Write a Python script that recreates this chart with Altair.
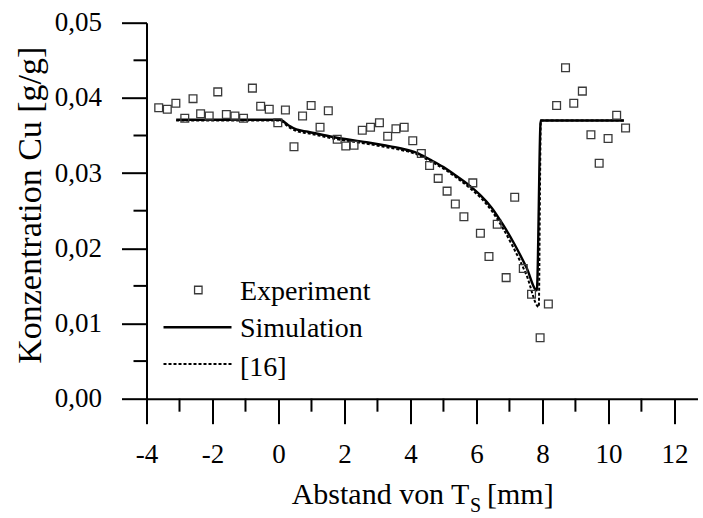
import altair as alt
import pandas as pd

# ---------------- data ----------------
exp_x = [-3.63, -3.37, -3.11, -2.84, -2.59, -2.36, -2.10, -1.84, -1.58, -1.32,
         -1.06, -0.79, -0.54, -0.28, -0.02, 0.21, 0.47, 0.73, 0.99, 1.26,
         1.51, 1.78, 2.04, 2.29, 2.54, 2.79, 3.06, 3.31, 3.56, 3.81,
         4.07, 4.33, 4.58, 4.84, 5.11, 5.36, 5.62, 5.89, 6.12, 6.38,
         6.63, 6.90, 7.16, 7.42, 7.67, 7.93, 8.18, 8.43, 8.70, 8.95,
         9.21, 9.47, 9.72, 9.99, 10.25, 10.52]
exp_y = [0.0387, 0.0385, 0.0393, 0.0373, 0.0399, 0.0379, 0.0376, 0.0408, 0.0378, 0.0376,
         0.0373, 0.0413, 0.0389, 0.0385, 0.0367, 0.0384, 0.0335, 0.0376, 0.0390, 0.0361,
         0.0383, 0.0345, 0.0336, 0.0337, 0.0357, 0.0361, 0.0367, 0.0349, 0.0359, 0.0361,
         0.0343, 0.0326, 0.0310, 0.0293, 0.0276, 0.0259, 0.0242, 0.0287, 0.0220, 0.0189,
         0.0232, 0.0161, 0.0268, 0.0173, 0.0139, 0.0081, 0.0126, 0.0390, 0.0440, 0.0393,
         0.0409, 0.0351, 0.0313, 0.0346, 0.0377, 0.0360]

sim_x = [-3.10, 0.04, 0.29, 0.54, 0.89, 1.66, 2.67, 3.20, 3.68, 4.19, 4.59, 5.00,
         5.30, 5.80, 6.11, 6.46, 6.81, 7.12, 7.52, 7.83, 7.95, 10.47]
sim_y = [0.0371, 0.0371, 0.0364, 0.0358, 0.0355, 0.0348, 0.0341, 0.0337, 0.0333, 0.0327, 0.0318, 0.0308,
         0.0299, 0.0283, 0.0271, 0.0254, 0.0231, 0.0208, 0.0174, 0.0144, 0.0370, 0.0370]

lit_x = [-3.10, 0.04, 0.29, 0.54, 0.89, 1.66, 2.67, 3.20, 3.68, 4.19, 4.59, 5.00,
         5.30, 5.80, 6.11, 6.46, 6.81, 7.12, 7.52, 7.89, 7.93, 7.95, 10.47]
lit_y = [0.0370, 0.0370, 0.0362, 0.0356, 0.0353, 0.0346, 0.0339, 0.0335, 0.0331, 0.0325, 0.0316, 0.0306,
         0.0297, 0.0280, 0.0268, 0.0250, 0.0226, 0.0201, 0.0164, 0.0122, 0.0300, 0.0370, 0.0370]

x_major = [-4, -2, 0, 2, 4, 6, 8, 10, 12]
x_minor = [-3, -1, 1, 3, 5, 7, 9, 11]
y_major = [0.0, 0.01, 0.02, 0.03, 0.04, 0.05]
y_minor = [0.005, 0.015, 0.025, 0.035, 0.045]

legend_labels = ["Experiment", "Simulation", "[16]"]
x_title_parts = ["Abstand von T", "S", " [mm]"]
y_title = "Konzentration Cu [g/g]"

# ---------------- layout ----------------
W, H = 551, 376
FONT = "Liberation Serif, DejaVu Serif, Noto Serif, serif"

xs = alt.Scale(domain=[-4, 12.7], nice=False, zero=False)
ys = alt.Scale(domain=[0, 0.05], nice=False, zero=False)

xaxis = alt.Axis(values=x_major, tickSize=25, tickWidth=2, tickColor="black",
                 domainColor="black", domainWidth=2, grid=False, title=None,
                 labelFont=FONT, labelFontSize=27, labelColor="black",
                 labelPadding=18, labelOverlap=False, labelFlush=False,
                 labelExpr="'' + datum.value")
yaxis = alt.Axis(values=y_major, tickSize=25, tickWidth=2, tickColor="black",
                 domainColor="black", domainWidth=2, grid=False,
                 labelFont=FONT, labelFontSize=27, labelColor="black",
                 labelPadding=20, labelOverlap=False, labelFlush=False,
                 labelExpr="replace(format(datum.value, '.2f'), '.', ',')",
                 title=y_title, titleFont=FONT, titleFontSize=34,
                 titleFontWeight="normal", titleColor="black",
                 titleAngle=270, titleX=-116, titleY=182,
                 titleAlign="center", titleBaseline="middle")

X = lambda f: alt.X(f, type="quantitative", scale=xs, axis=xaxis)
Y = lambda f: alt.Y(f, type="quantitative", scale=ys, axis=yaxis)

exp_df = pd.DataFrame({"x": exp_x, "y": exp_y})
sim_df = pd.DataFrame({"x": sim_x, "y": sim_y, "i": list(range(len(sim_x)))})
lit_df = pd.DataFrame({"x": lit_x, "y": lit_y, "i": list(range(len(lit_x)))})
xmin_df = pd.DataFrame({"x": x_minor})
ymin_df = pd.DataFrame({"y": y_minor})
one = alt.Data(values=[{"a": 1}])

lit = alt.Chart(lit_df).mark_line(color="black", strokeWidth=2, strokeDash=[3, 2],
                                  interpolate="monotone").encode(
    x=X("x"), y=Y("y"), order="i:Q")
sim = alt.Chart(sim_df).mark_line(color="black", strokeWidth=2.4,
                                  interpolate="monotone").encode(
    x=X("x"), y=Y("y"), order="i:Q")
pts = alt.Chart(exp_df).mark_point(shape="square", filled=False, size=60,
                                   stroke="#3a3a3a", strokeWidth=1.3, opacity=1).encode(
    x=X("x"), y=Y("y"))

xminor = alt.Chart(xmin_df).mark_rule(color="black", strokeWidth=2).encode(
    x=X("x"), y=alt.value(H), y2=alt.value(H + 13))
yminor = alt.Chart(ymin_df).mark_rule(color="black", strokeWidth=2).encode(
    y=Y("y"), x=alt.value(-13), x2=alt.value(0))

# legend (manual)
leg_sq = alt.Chart(one).mark_point(shape="square", filled=False, size=56,
                                   stroke="#3a3a3a", strokeWidth=1.3, opacity=1).encode(
    x=alt.value(51.8), y=alt.value(267.3))
leg_l1 = alt.Chart(one).mark_rule(color="black", strokeWidth=2.4).encode(
    x=alt.value(17), x2=alt.value(85), y=alt.value(304.6))
leg_l2 = alt.Chart(one).mark_rule(color="black", strokeWidth=2, strokeDash=[3, 2]).encode(
    x=alt.value(17), x2=alt.value(85), y=alt.value(341.3))

def txt(s, x, y, size=28, align="left"):
    return alt.Chart(one).mark_text(font=FONT, fontSize=size, color="black",
                                    align=align, baseline="alphabetic").encode(
        x=alt.value(x), y=alt.value(y), text=alt.value(s))

leg_t = [txt(legend_labels[0], 93.5, 277.3),
         txt(legend_labels[1], 93.5, 314.5),
         txt(legend_labels[2], 93.5, 353.3)]

xt = [txt(x_title_parts[0], 145.2, 481.3, size=30),
      txt(x_title_parts[1], 323.5, 489.5, size=20),
      txt(x_title_parts[2], 340.5, 481.3, size=30)]

chart = alt.layer(xminor, yminor, lit, sim, pts, leg_sq, leg_l1, leg_l2,
                  *leg_t, *xt).properties(
    width=W, height=H,
    autosize=alt.AutoSizeParams(type="none"),
    padding={"left": 146.5, "top": 22.7, "right": 5, "bottom": 119},
    background="white",
).configure_view(stroke=None)

chart.save("out.html", embed_options={"renderer": "svg", "actions": False})
